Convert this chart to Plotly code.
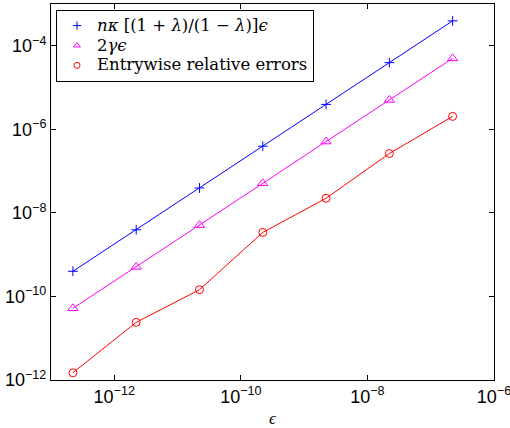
import plotly.graph_objects as go

eps = [2.22e-13, 2.22e-12, 2.22e-11, 2.22e-10, 2.22e-9, 2.22e-8, 2.22e-7]
bound_nk = [4.0e-10, 3.95e-9, 3.95e-8, 3.95e-7, 3.95e-6, 3.95e-5, 3.95e-4]
bound_2g = [5.2e-11, 5.1e-10, 5.1e-9, 5.1e-8, 5.1e-7, 5.05e-6, 5.0e-5]
rel_err = [1.49e-12, 2.4e-11, 1.45e-10, 3.4e-9, 2.24e-8, 2.64e-7, 2.04e-6]

names = ["<i>nκ</i> [(1 + <i>λ</i>)/(1 − <i>λ</i>)]<i>ϵ</i>",
         "2<i>γϵ</i>",
         "Entrywise relative errors"]
colors = ["#0000ff", "#ff00ff", "#ff0000"]
symbols = ["cross-thin", "triangle-up-open", "circle-open"]
sizes = [7, 9, 8]
series = [bound_nk, bound_2g, rel_err]

xticks = [1e-12, 1e-10, 1e-8, 1e-6]
xticktext = ["10<sup>−12</sup>", "10<sup>−10</sup>", "10<sup>−8</sup>", "10<sup>−6</sup>"]
yticks = [1e-12, 1e-10, 1e-8, 1e-6, 1e-4]
yticktext = ["10<sup>−12</sup>", "10<sup>−10</sup>", "10<sup>−8</sup>", "10<sup>−6</sup>", "10<sup>−4</sup>"]

fig = go.Figure()
for ys, nm, c, s, sz in zip(series, names, colors, symbols, sizes):
    fig.add_trace(go.Scatter(x=eps, y=ys, mode="lines+markers", showlegend=False,
                             line=dict(color=c, width=1),
                             marker=dict(symbol=s, size=sz, color=c, line=dict(color=c, width=1))))
for nm, c, s in zip(names, colors, symbols):
    fig.add_trace(go.Scatter(x=[None], y=[None], mode="markers",
                             name='<span style="font-size:16.5px">' + nm + "</span>",
                             marker=dict(symbol=s, size=6, color=c, line=dict(color=c, width=1))))

axis_common = dict(type="log", showgrid=False, zeroline=False, showline=True,
                   linecolor="black", linewidth=1, mirror="ticks", ticks="inside",
                   ticklen=5, tickcolor="black", automargin=False,
                   ticklabeloverflow="allow",
                   tickfont=dict(family="Liberation Sans, Arial", size=18, color="black"))

fig.update_xaxes(range=[-13, -6], tickvals=xticks, ticktext=xticktext, **axis_common)
fig.update_yaxes(range=[-12, -3], tickvals=yticks, ticktext=yticktext, **axis_common)

fig.add_annotation(text="<i>ϵ</i>", xref="paper", yref="paper", x=0.5, y=0,
                   yshift=-38, yanchor="middle", showarrow=False,
                   font=dict(family="Liberation Serif", size=17, color="black"))

fig.update_layout(
    width=510, height=428,
    margin=dict(l=51, r=16, t=4, b=48),
    plot_bgcolor="white", paper_bgcolor="white",
    showlegend=True,
    legend=dict(x=0.0113, y=0.985, xanchor="left", yanchor="top",
                bgcolor="white", bordercolor="black", borderwidth=1,
                font=dict(family="DejaVu Serif", size=13, color="black"),
                tracegroupgap=0, itemwidth=30),
)

fig.write_html("out.html", config={"displayModeBar": False},
               post_script="document.body.style.margin='0';document.body.style.padding='0';")
